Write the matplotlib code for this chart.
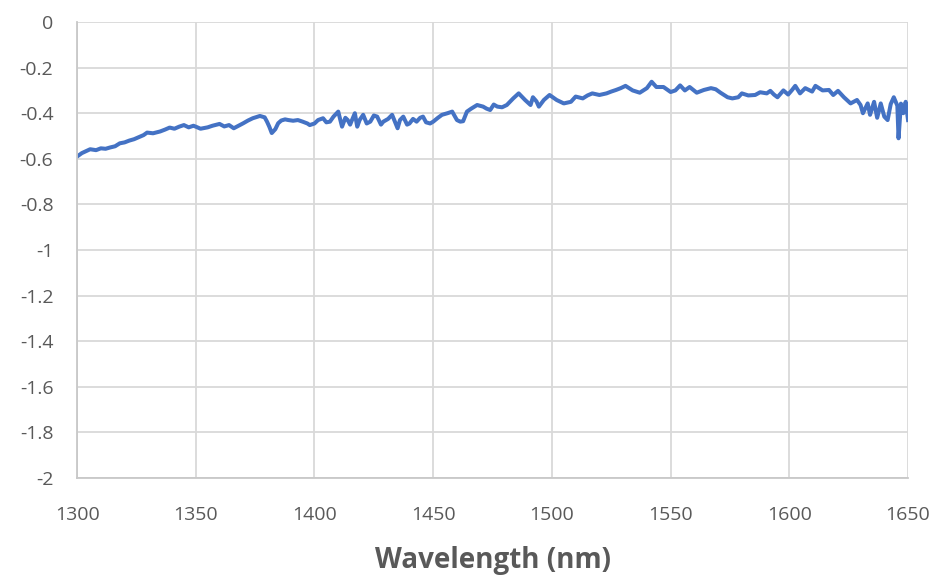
# Reflectance-like spectrum, Excel-style chart
import matplotlib.pyplot as plt

# values, 10 per row (rows line up between the two lists)
wavelength = [1300, 1302, 1304, 1305.5, 1308, 1310, 1312, 1314, 1316, 1318,
              1320, 1322, 1324, 1326.5, 1328, 1329.5, 1332, 1335, 1337, 1339,
              1341, 1343, 1345, 1347, 1349, 1350, 1352, 1355, 1357, 1360,
              1362, 1364, 1366, 1368, 1370, 1372, 1374, 1377, 1379, 1380,
              1381, 1382, 1383.5, 1384.7, 1386, 1387.6, 1389, 1391, 1393, 1395,
              1397, 1398, 1400, 1401.5, 1403.6, 1405, 1406.5, 1408, 1410, 1411.6,
              1413, 1414, 1415, 1417, 1418, 1419, 1420.5, 1422, 1423.5, 1425,
              1426.4, 1428, 1429, 1431, 1432.7, 1434, 1435, 1436, 1437.4, 1439,
              1440, 1441.5, 1443, 1444.5, 1445.7, 1447, 1448.7, 1450, 1452, 1453.7,
              1456, 1458, 1460, 1461.4, 1462.6, 1464.2, 1466, 1468.5, 1471, 1472.5,
              1474, 1475.5, 1477, 1479, 1481, 1483.7, 1486, 1488.7, 1491, 1492,
              1493.5, 1494.5, 1496.6, 1499, 1502, 1505, 1508, 1510, 1513, 1515,
              1517, 1520, 1523, 1525, 1527, 1529, 1531, 1534, 1537, 1540,
              1542, 1544, 1547, 1550, 1552, 1554, 1556, 1558, 1561, 1564,
              1567, 1569, 1571, 1574, 1576, 1578.5, 1580, 1582.7, 1585.6, 1587.7,
              1590.5, 1592, 1593.5, 1595, 1597.5, 1599.5, 1601, 1602.5, 1604.5, 1606.7,
              1609.6, 1611, 1614, 1616.7, 1618.5, 1620.5, 1623, 1625.8, 1628.5, 1630,
              1631, 1633, 1634, 1635.7, 1637, 1638.5, 1640, 1641.4, 1642.7, 1644,
              1645.5, 1646, 1647, 1648, 1649, 1650]
signal_db = [-0.59, -0.575, -0.565, -0.558, -0.562, -0.554, -0.556, -0.55, -0.545, -0.532,
             -0.528, -0.52, -0.514, -0.503, -0.496, -0.485, -0.488, -0.48, -0.472, -0.463,
             -0.468, -0.459, -0.452, -0.462, -0.455, -0.459, -0.468, -0.462, -0.455, -0.447,
             -0.458, -0.452, -0.466, -0.455, -0.444, -0.432, -0.422, -0.412, -0.418, -0.437,
             -0.46, -0.487, -0.47, -0.444, -0.432, -0.427, -0.43, -0.433, -0.43, -0.437,
             -0.445, -0.452, -0.445, -0.43, -0.422, -0.44, -0.437, -0.415, -0.393, -0.459,
             -0.42, -0.43, -0.45, -0.4, -0.459, -0.43, -0.407, -0.445, -0.437, -0.41,
             -0.415, -0.45, -0.437, -0.425, -0.407, -0.44, -0.466, -0.43, -0.415, -0.45,
             -0.445, -0.425, -0.437, -0.42, -0.415, -0.44, -0.445, -0.437, -0.42, -0.407,
             -0.4, -0.393, -0.43, -0.437, -0.435, -0.393, -0.38, -0.364, -0.371, -0.38,
             -0.386, -0.362, -0.371, -0.374, -0.364, -0.335, -0.313, -0.342, -0.364, -0.33,
             -0.348, -0.371, -0.342, -0.32, -0.342, -0.357, -0.35, -0.327, -0.335, -0.322,
             -0.313, -0.32, -0.313, -0.305, -0.298, -0.29, -0.28, -0.3, -0.31, -0.29,
             -0.262, -0.285, -0.285, -0.307, -0.3, -0.278, -0.3, -0.285, -0.31, -0.298,
             -0.29, -0.295, -0.31, -0.33, -0.335, -0.33, -0.313, -0.322, -0.32, -0.308,
             -0.313, -0.302, -0.318, -0.33, -0.3, -0.318, -0.3, -0.28, -0.313, -0.29,
             -0.305, -0.28, -0.3, -0.298, -0.32, -0.302, -0.33, -0.357, -0.342, -0.364,
             -0.4, -0.357, -0.407, -0.35, -0.42, -0.357, -0.415, -0.43, -0.36, -0.33,
             -0.367, -0.51, -0.358, -0.4, -0.35, -0.43]

y_ticks = [0, -0.2, -0.4, -0.6, -0.8, -1, -1.2, -1.4, -1.6, -1.8, -2]
x_ticks = [1300, 1350, 1400, 1450, 1500, 1550, 1600, 1650]

plt.rcParams['font.family'] = ['Open Sans', 'DejaVu Sans']

fig = plt.figure(figsize=(9.4, 5.75), dpi=100)
ax = fig.add_axes([0.082, 0.1687, 0.884, 0.793])

ax.plot(wavelength, signal_db, color='#4472C4', linewidth=2.9, solid_joinstyle='round')

ax.set_xlim(1300, 1650)
ax.set_ylim(-2, 0)
ax.set_xticks(x_ticks)
ax.set_yticks(y_ticks)
ax.set_yticklabels([f'{v:g}' for v in y_ticks])
ax.grid(True, color='#D9D9D9', linewidth=1.3)
ax.set_axisbelow(True)
ax.tick_params(length=0, labelsize=14, labelcolor='#595959')
ax.tick_params(axis='y', pad=17)
ax.tick_params(axis='x', pad=20)
for side in ['top', 'right']:
    ax.spines[side].set_visible(False)
for side in ['left', 'bottom']:
    ax.spines[side].set_color('#C8C8C8')
    ax.spines[side].set_linewidth(1.3)

ax.set_xlabel('Wavelength (nm)', fontsize=20, fontweight='bold', color='#595959', labelpad=16)

fig.savefig('out.png', dpi=100)
